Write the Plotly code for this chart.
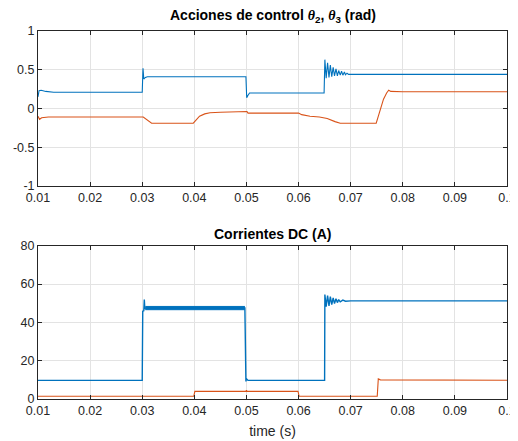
import plotly.graph_objects as go

# ---------------- data ----------------
# Top panel: control actions theta2 (blue) and theta3 (orange), rad
t_theta2 = [0.0100, 0.0102, 0.0106, 0.0115, 0.0130, 0.0300, 0.03015, 0.0302, 0.0303, 0.0306, 0.0310,
            0.0499, 0.05005, 0.0503, 0.0506, 0.0649,
            0.06505, 0.0653, 0.06557, 0.06584, 0.0661, 0.06637, 0.06664, 0.0669, 0.06718,
            0.06745, 0.0677, 0.0680, 0.06825, 0.0685, 0.0688, 0.0690, 0.0693, 0.0696, 0.0700, 0.1000]
theta2 = [0.15, 0.23, 0.235, 0.22, 0.21, 0.21, 0.52, 0.45, 0.38, 0.40, 0.41,
          0.41, 0.14, 0.17, 0.20, 0.20,
          0.63, 0.39, 0.59, 0.40, 0.56, 0.41, 0.53, 0.42, 0.51,
          0.42, 0.49, 0.43, 0.48, 0.43, 0.47, 0.435, 0.455, 0.44, 0.44, 0.44]

t_theta3 = [0.0100, 0.0103, 0.0107, 0.0120, 0.0302, 0.0310, 0.0318, 0.0398, 0.0403, 0.0410,
            0.0420, 0.0430, 0.0450, 0.0499, 0.0501, 0.0503, 0.0600, 0.0606, 0.0622,
            0.0640, 0.0655, 0.0670, 0.0680, 0.0749, 0.0752, 0.0757, 0.0763, 0.0769,
            0.0773, 0.0777, 0.0800, 0.1000]
theta3 = [-0.10, -0.14, -0.12, -0.11, -0.11, -0.15, -0.19, -0.19, -0.15, -0.10,
          -0.07, -0.055, -0.048, -0.045, -0.04, -0.06, -0.06, -0.08, -0.10,
          -0.11, -0.13, -0.17, -0.19, -0.19, -0.12, 0.00, 0.12, 0.20,
          0.235, 0.22, 0.215, 0.215]

# Bottom panel: DC currents (A)
t_i1 = [0.0100, 0.0300, 0.0301, 0.0303, 0.0304, 0.0305, 0.0306, 0.0497, 0.0499, 0.0500,
        0.0503, 0.0650, 0.06505, 0.0653, 0.06557, 0.06584, 0.0661, 0.06637, 0.06664,
        0.0669, 0.06718, 0.06745, 0.0677, 0.0680, 0.0685, 0.0690, 0.0700, 0.1000]
i1 = [9.7, 9.7, 45.8, 46.0, 51.9, 47.0, 47.5, 47.5, 9.2, 10.6,
      9.7, 9.7, 54.5, 48.2, 54.0, 48.6, 53.4, 49.2, 52.8,
      49.8, 52.3, 50.3, 51.9, 50.7, 51.6, 51.0, 51.2, 51.2]
# ripple envelope of the blue current between 0.03 and 0.05 s
t_band = [0.0306, 0.0497]
band_lo = [46.6, 46.6]
band_hi = [48.3, 48.3]

t_i2 = [0.0100, 0.0399, 0.0401, 0.0499, 0.0500, 0.0501, 0.0599, 0.0601, 0.0751, 0.0753, 0.0757, 0.1000]
i2 = [1.4, 1.4, 4.0, 4.0, 4.6, 4.0, 4.0, 1.4, 1.4, 10.5, 10.0, 9.8]

x_ticks = [0.01, 0.02, 0.03, 0.04, 0.05, 0.06, 0.07, 0.08, 0.09, 0.1]
x_tick_text = ["0.01", "0.02", "0.03", "0.04", "0.05", "0.06", "0.07", "0.08", "0.09", "0.1"]
y1_ticks = [-1, -0.5, 0, 0.5, 1]
y1_tick_text = ["-1", "-0.5", "0", "0.5", "1"]
y2_ticks = [0, 20, 40, 60, 80]
y2_tick_text = ["0", "20", "40", "60", "80"]

# ---------------- figure ----------------
BLUE = "#0072BD"
ORANGE = "#D95319"
AX = "#262626"
GRID = "#e3e3e3"
FONT = "Liberation Sans, Arial, sans-serif"

fig = go.Figure()
fig.add_trace(go.Scatter(x=t_theta2, y=theta2, mode="lines", line=dict(color=BLUE, width=1.1),
                         xaxis="x", yaxis="y", showlegend=False))
fig.add_trace(go.Scatter(x=t_theta3, y=theta3, mode="lines", line=dict(color=ORANGE, width=1.1),
                         xaxis="x", yaxis="y", showlegend=False))

fig.add_trace(go.Scatter(x=t_band, y=band_lo, mode="lines", line=dict(color=BLUE, width=1),
                         xaxis="x2", yaxis="y2", showlegend=False))
fig.add_trace(go.Scatter(x=t_band, y=band_hi, mode="lines", line=dict(color=BLUE, width=1),
                         fill="tonexty", fillcolor=BLUE, xaxis="x2", yaxis="y2", showlegend=False))
fig.add_trace(go.Scatter(x=t_i1, y=i1, mode="lines", line=dict(color=BLUE, width=1.4),
                         xaxis="x2", yaxis="y2", showlegend=False))
fig.add_trace(go.Scatter(x=t_i2, y=i2, mode="lines", line=dict(color=ORANGE, width=1.1),
                         xaxis="x2", yaxis="y2", showlegend=False))

common_x = dict(range=[0.01, 0.1], tickvals=x_ticks, ticktext=x_tick_text,
                showgrid=True, gridcolor=GRID, gridwidth=1, zeroline=False,
                showline=True, linecolor=AX, linewidth=1, mirror="ticks",
                ticks="inside", ticklen=4, tickcolor=AX, automargin=False,
                tickfont=dict(family=FONT, size=12.5, color=AX))
common_y = dict(showgrid=True, gridcolor=GRID, gridwidth=1, zeroline=False,
                showline=True, linecolor=AX, linewidth=1, mirror="ticks",
                ticks="inside", ticklen=4, tickcolor=AX, automargin=False,
                tickfont=dict(family=FONT, size=12.5, color=AX))

# The page body has an 8 px margin, so the figure is sized to fit the window.
fig.update_layout(
    width=510, height=433,
    margin=dict(l=30, r=11, t=23, b=42, autoexpand=False),
    paper_bgcolor="white", plot_bgcolor="white",
    xaxis=dict(domain=[0, 1], anchor="y", **common_x),
    yaxis=dict(domain=[0.579, 1], anchor="x", range=[-1, 1],
               tickvals=y1_ticks, ticktext=y1_tick_text, **common_y),
    xaxis2=dict(domain=[0, 1], anchor="y2", **common_x,
                title=dict(text="time (s)", font=dict(family=FONT, size=14, color=AX), standoff=9)),
    yaxis2=dict(domain=[0, 0.4166], anchor="x2", range=[0, 80],
                tickvals=y2_ticks, ticktext=y2_tick_text, **common_y),
    annotations=[
        dict(text="<b>Acciones de control <i><span style=\"font-family:'Liberation Serif'\">θ</span></i><sub>2</sub>, "
                  "<i><span style=\"font-family:'Liberation Serif'\">θ</span></i><sub>3</sub> (rad)</b>",
             xref="paper", yref="paper", x=0.5, y=1, yshift=4, xanchor="center", yanchor="bottom",
             showarrow=False, font=dict(family=FONT, size=14, color="black")),
        dict(text="<b>Corrientes DC (A)</b>",
             xref="paper", yref="paper", x=0.5, y=0.4166, yshift=2, xanchor="center", yanchor="bottom",
             showarrow=False, font=dict(family=FONT, size=14, color="black")),
    ],
)

fig.write_html("out.html")
